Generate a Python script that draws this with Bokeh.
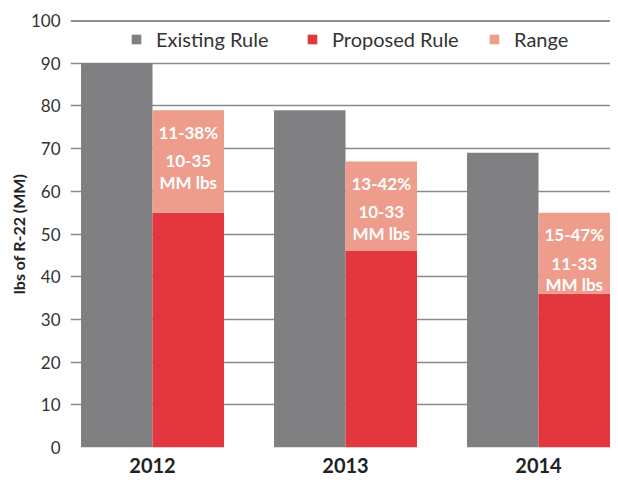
import numpy as np
from bokeh.plotting import figure
from bokeh.models import ColumnDataSource, Range1d, FixedTicker, Legend, LegendItem, Span
from bokeh.transform import dodge
from bokeh.core.properties import value
from bokeh.embed import file_html
from bokeh.resources import INLINE

# ---- data ----
years = ["2012", "2013", "2014"]
existing_rule = [90, 79, 69]
proposed_rule = [55, 46, 36]
range_top = [79, 67, 55]
pct_labels = ["11-38%", "13-42%", "15-47%"]
mm_labels = ["10-35", "10-33", "11-33"]
mm_unit = ["MM lbs", "MM lbs", "MM lbs"]
y_ticks = [0, 10, 20, 30, 40, 50, 60, 70, 80, 90, 100]

C_EXIST = "#807f82"
C_PROP = "#e2373f"
C_RANGE = "#ee9c8b"
FONT = "Lato"

idx = np.arange(len(years))
src = ColumnDataSource(dict(x=idx, years=years, existing=existing_rule,
                            proposed=proposed_rule, rtop=range_top,
                            pct=pct_labels, mm=mm_labels, unit=mm_unit))

p = figure(width=610, height=475, output_backend="svg", toolbar_location=None,
           x_range=Range1d(-0.425, 2.373), y_range=Range1d(0, 100),
           min_border_left=70, min_border_right=0, min_border_top=20,
           min_border_bottom=26)
p.outline_line_color = None
p.background_fill_color = "white"

BW = 0.3705
r_ex = p.vbar(x=dodge("x", -BW / 2), top="existing", width=BW, source=src,
              fill_color=C_EXIST, line_color=None)
r_pr = p.vbar(x=dodge("x", BW / 2), top="proposed", width=BW, source=src,
              fill_color=C_PROP, line_color=None)
r_rg = p.vbar(x=dodge("x", BW / 2), bottom="proposed", top="rtop", width=BW,
              source=src, fill_color=C_RANGE, line_color=None)

for col, off in (("pct", 22), ("mm", 51), ("unit", 72)):
    p.text(x=dodge("x", BW / 2), y="rtop", text=col, source=src, y_offset=off,
           text_align="center", text_baseline="middle", text_color="white",
           text_font=value(FONT), text_font_style="bold", text_font_size="17px")

p.add_layout(Span(location=100, dimension="width", line_color="#222222",
                  line_width=2))

# axes
p.yaxis.ticker = FixedTicker(ticks=y_ticks)
p.yaxis.axis_line_color = None
p.yaxis.major_tick_line_color = None
p.yaxis.minor_tick_line_color = None
p.yaxis.major_tick_out = 0
p.yaxis.minor_tick_out = 0
p.yaxis.major_label_text_font = FONT
p.yaxis.major_label_text_font_size = "17px"
p.yaxis.major_label_text_color = "#333333"
p.yaxis.major_label_standoff = 10
p.yaxis.axis_label = "lbs of R-22 (MM)"
p.yaxis.axis_label_text_font = FONT
p.yaxis.axis_label_text_font_style = "bold"
p.yaxis.axis_label_text_font_size = "16px"
p.yaxis.axis_label_text_color = "#222222"
p.yaxis.axis_label_standoff = 0

p.xaxis.ticker = FixedTicker(ticks=list(idx))
p.xaxis.major_label_overrides = {int(i): y for i, y in zip(idx, years)}
p.xaxis.axis_line_color = None
p.xaxis.major_tick_line_color = None
p.xaxis.minor_tick_line_color = None
p.xaxis.major_tick_out = 0
p.xaxis.minor_tick_out = 0
p.xaxis.major_label_text_font = FONT
p.xaxis.major_label_text_font_style = "bold"
p.xaxis.major_label_text_font_size = "20px"
p.xaxis.major_label_text_color = "#222222"
p.xaxis.major_label_standoff = 10

p.xgrid.grid_line_color = None
p.ygrid.grid_line_color = "#8a8a8a"
p.ygrid.grid_line_width = 1.5

labels = ["Existing Rule", "Proposed Rule", "Range"]
renderers = [r_ex, r_pr, r_rg]
legend_x = [60, 236, 418]
for lab, rend, lx in zip(labels, renderers, legend_x):
    lg = Legend(items=[LegendItem(label=lab, renderers=[rend])],
                orientation="horizontal", location=(lx, 396),
                glyph_width=12, glyph_height=12, label_standoff=14,
                padding=0, margin=0, border_line_color=None,
                background_fill_alpha=0, label_text_font=FONT,
                label_text_font_size="20px", label_text_color="#333333",
                label_height=20)
    p.add_layout(lg, "center")

open("out.html", "w").write(file_html(p, INLINE))
